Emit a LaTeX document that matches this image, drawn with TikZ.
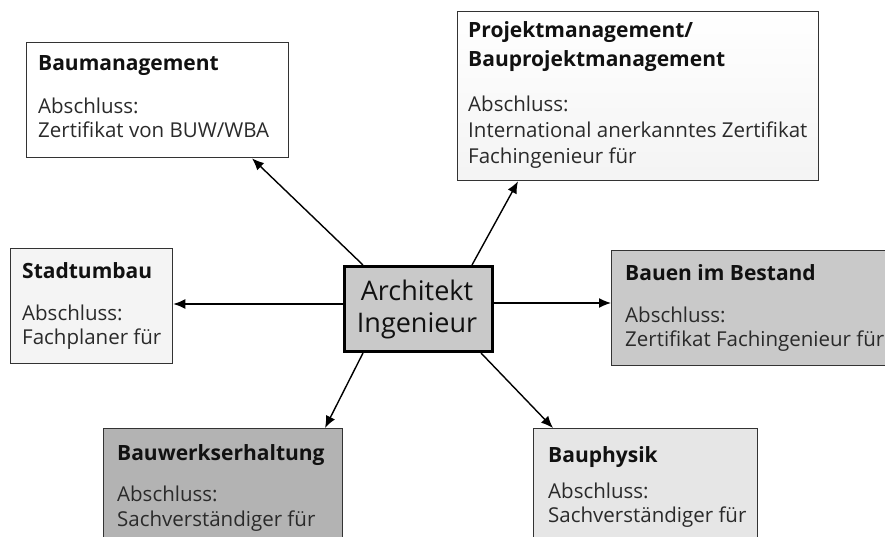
\documentclass[tikz,border=0pt]{standalone}
\usepackage{fontspec}
\setmainfont{Open Sans}
\usetikzlibrary{arrows.meta}
\definecolor{bordc}{HTML}{333333}
\definecolor{txtc}{HTML}{2A2A2A}
\definecolor{ttlc}{HTML}{111111}
\definecolor{fillmid}{HTML}{C9C9C9}
\definecolor{filldark}{HTML}{B3B3B3}
\definecolor{filllight}{HTML}{E6E6E6}
\definecolor{fillpale}{HTML}{F4F4F4}
\begin{document}
\begin{tikzpicture}[x=1pt,y=-1pt,
  box/.style={draw=bordc,line width=1.3pt,inner sep=0pt,anchor=north west,rectangle},
  ttl/.style={anchor=base west,inner sep=0pt,text=ttlc,font=\fontsize{21}{26}\selectfont\bfseries},
  bdy/.style={anchor=base west,inner sep=0pt,text=txtc,font=\fontsize{20.5}{24}\selectfont},
  ctr/.style={anchor=base,inner sep=0pt,text=ttlc,font=\fontsize{27}{32}\selectfont},
  arr/.style={-{Latex[length=12pt,width=10pt]},line width=1.4pt,black}]
\useasboundingbox (0,0) rectangle (885,537);
\clip (0,0) rectangle (885,537);
\fill[white] (0,0) rectangle (885,537);
% boxes
\node[box,fill=white,minimum width=262pt,minimum height=115pt] (baum) at (26,42) {};
\node[box,top color=white,bottom color=gray!9,minimum width=361pt,minimum height=169pt] (proj) at (457,11) {};
\node[box,fill=fillpale,minimum width=162pt,minimum height=115pt] (stadt) at (10,248) {};
\node[box,fill=fillmid,minimum width=350pt,minimum height=115pt] (bauen) at (611,250) {};
\node[box,fill=filldark,minimum width=239pt,minimum height=140pt] (bw) at (103,428) {};
\node[box,fill=filllight,minimum width=224pt,minimum height=140pt] (bp) at (533,428) {};
\node[box,fill=fillmid,draw=black,line width=3pt,minimum width=148pt,minimum height=85pt] (c) at (343,265) {};
% central text
\node[ctr] (c1) at (417,300) {Architekt};
\node[ctr] (c2) at (417,332) {Ingenieur};
% Baumanagement
\node[ttl] (baumT) at (38,71) {Baumanagement};
\node[bdy] (baumA) at (38,114) {Abschluss:};
\node[bdy] (baumB) at (38,138) {Zertifikat von BUW/WBA};
% Projekt
\node[ttl] (projT1) at (468,38) {Projektmanagement/};
\node[ttl] (projT2) at (468,67) {Bauprojektmanagement};
\node[bdy] (projA) at (468,112) {Abschluss:};
\node[bdy] (projB) at (468,138) {International anerkanntes Zertifikat};
\node[bdy] (projC) at (468,164) {Fachingenieur für};
% Stadtumbau
\node[ttl] (stadtT) at (22,278) {Stadtumbau};
\node[bdy] (stadtA) at (22,320) {Abschluss:};
\node[bdy] (stadtB) at (22,344) {Fachplaner für};
% Bauen im Bestand
\node[ttl] (bauenT) at (625,280) {Bauen im Bestand};
\node[bdy] (bauenA) at (625,322) {Abschluss:};
\node[bdy] (bauenB) at (625,346) {Zertifikat Fachingenieur für};
% Bauwerkserhaltung
\node[ttl] (bwT) at (117,460) {Bauwerkserhaltung};
\node[bdy] (bwA) at (117,501) {Abschluss:};
\node[bdy] (bwB) at (117,526) {Sachverständiger für};
% Bauphysik
\node[ttl] (bpT) at (548,462) {Bauphysik};
\node[bdy] (bpA) at (548,498) {Abschluss:};
\node[bdy] (bpB) at (548,522) {Sachverständiger für};
% arrows
\draw[arr] ([xshift=20pt]c.north west) -- ([xshift=226pt]baum.south west);
\draw[arr] ([xshift=129pt]c.north west) -- ([xshift=61pt]proj.south west);
\draw[arr] ([yshift=5pt]c.west) -- ([yshift=5pt]c.west -| stadt.east);
\draw[arr] ([yshift=6pt]c.east) -- ([yshift=6pt]c.east -| bauen.west);
\draw[arr] ([xshift=20pt]c.south west) -- ([xshift=222pt]bw.north west);
\draw[arr] ([xshift=-13pt]c.south east) -- ([xshift=20pt]bp.north west);
\end{tikzpicture}
\end{document}
